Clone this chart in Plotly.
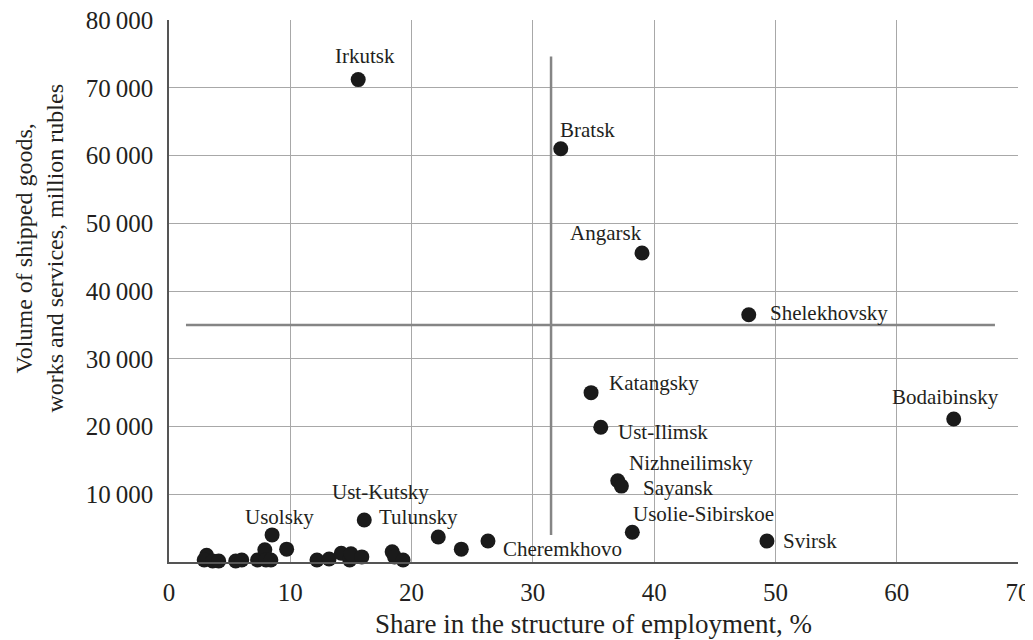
import plotly.graph_objects as go

# Data
share = [15.6, 32.3, 39.0, 47.8, 34.8, 64.7, 35.6, 37.0, 37.3, 38.2, 49.3, 26.3,
         16.1, 22.2, 8.5,
         3.1, 2.9, 3.6, 4.1, 5.5, 6.0, 7.3, 7.9, 8.0, 8.4, 9.7, 12.2, 13.2, 14.2,
         14.9, 15.0, 15.9, 18.4, 18.6, 19.3, 24.1]
volume = [71200, 61000, 45600, 36500, 25000, 21100, 19900, 12000, 11200, 4400, 3100, 3100,
          6200, 3700, 4000,
          1000, 300, 150, 150, 150, 300, 300, 1800, 300, 300, 1900, 300, 450, 1300,
          300, 1200, 750, 1500, 750, 300, 1900]

label_names = ["Irkutsk", "Bratsk", "Angarsk", "Shelekhovsky", "Katangsky", "Bodaibinsky",
               "Ust-Ilimsk", "Nizhneilimsky", "Sayansk", "Usolie-Sibirskoe", "Svirsk",
               "Cheremkhovo", "Ust-Kutsky", "Tulunsky", "Usolsky"]
label_point = [0, 1, 2, 3, 4, 5, 6, 7, 8, 9, 10, 11, 12, 12, 14]
# (xanchor, xshift, yshift) label placement styles
label_style = [("center", 7, 24), ("left", -3, 19), ("center", -36, 20), ("left", 19, 2),
               ("left", 16, 10), ("center", -8, 22), ("left", 15, -5), ("left", 9, 18),
               ("left", 20, -2), ("left", -1, 18), ("left", 14, 0), ("left", 13, -8),
               ("center", 16, 28), ("left", 13, 3), ("center", 7, 18)]

x_ticks = [0, 10, 20, 30, 40, 50, 60, 70]
y_ticks = [10000, 20000, 30000, 40000, 50000, 60000, 70000, 80000]
y_ticktext = [f"{v // 1000}\u2009000" for v in y_ticks]

threshold_share = 31.5
threshold_volume = 35000
vline_y = [4000, 74600]
hline_x = [1.4, 68.1]

font_family = "Liberation Serif"
text_color = "#231f20"

fig = go.Figure()

fig.add_trace(go.Scatter(x=[threshold_share, threshold_share], y=vline_y, mode="lines",
                         line=dict(color="#858585", width=2.5), hoverinfo="skip"))
fig.add_trace(go.Scatter(x=hline_x, y=[threshold_volume, threshold_volume], mode="lines",
                         line=dict(color="#858585", width=2.5), hoverinfo="skip"))

fig.add_trace(go.Scatter(x=share, y=volume, mode="markers",
                         marker=dict(color="#1a1a1a", size=15),
                         cliponaxis=False))

for name, idx, (anchor, xs, ys) in zip(label_names, label_point, label_style):
    fig.add_annotation(x=share[idx], y=volume[idx], text=name, showarrow=False,
                       xanchor=anchor, yanchor="middle", xshift=xs, yshift=ys,
                       font=dict(family=font_family, size=21, color=text_color))

# y-axis title as a rotated two-line annotation
fig.add_annotation(xref="paper", yref="paper", x=-0.152, y=0.58,
                   text="Volume of shipped goods,<br>works and services, million rubles",
                   textangle=-90, showarrow=False, xanchor="center", yanchor="middle",
                   font=dict(family=font_family, size=24, color=text_color))

fig.update_layout(
    width=1025, height=632,
    margin=dict(l=161, r=15, t=12, b=78),
    plot_bgcolor="white", paper_bgcolor="white",
    showlegend=False,
    font=dict(family=font_family, color=text_color),
)

fig.update_xaxes(range=[0, 70], tickvals=x_ticks, showgrid=True, gridcolor="#a8a8a8",
                 gridwidth=1, zeroline=False, showline=True, linecolor="#555", linewidth=1.5,
                 tickfont=dict(family=font_family, size=25), ticks="outside", ticklen=7,
                 tickcolor="rgba(0,0,0,0)", automargin=False, ticklabeloverflow="allow",
                 title=dict(text="Share in the structure of employment, %",
                            font=dict(family=font_family, size=27), standoff=9))
fig.update_yaxes(range=[0, 80000], tickvals=y_ticks, ticktext=y_ticktext, showgrid=True,
                 gridcolor="#a8a8a8", gridwidth=1, zeroline=False, showline=True,
                 linecolor="#555", linewidth=1.5, tickfont=dict(family=font_family, size=25),
                 ticks="outside", ticklen=9, tickcolor="rgba(0,0,0,0)", automargin=False,
                 ticklabeloverflow="allow")

fig.write_html("out.html")
